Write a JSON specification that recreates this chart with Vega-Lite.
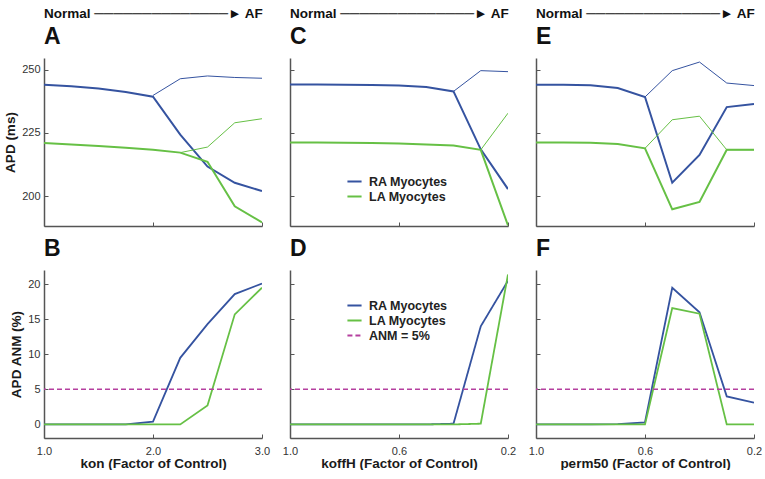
{
  "$schema": "https://vega.github.io/schema/vega-lite/v6.json",
  "background": "white",
  "padding": {"left": 3, "top": 6, "right": 0, "bottom": 0},
  "columns": 3,
  "bounds": "flush",
  "spacing": {"row": 44, "column": 28},
  "resolve": {
    "scale": {"color": "independent", "strokeDash": "independent"},
    "legend": {"color": "independent", "strokeDash": "independent"}
  },
  "datasets": {
    "apdA": [
      {"x": 1.0, "y": 244.0, "series": "RA Myocytes", "branch": "main"},
      {"x": 1.25, "y": 243.4, "series": "RA Myocytes", "branch": "main"},
      {"x": 1.5, "y": 242.5, "series": "RA Myocytes", "branch": "main"},
      {"x": 1.75, "y": 241.2, "series": "RA Myocytes", "branch": "main"},
      {"x": 2.0, "y": 239.3, "series": "RA Myocytes", "branch": "main"},
      {"x": 2.25, "y": 224.3, "series": "RA Myocytes", "branch": "main"},
      {"x": 2.5, "y": 211.7, "series": "RA Myocytes", "branch": "main"},
      {"x": 2.75, "y": 205.3, "series": "RA Myocytes", "branch": "main"},
      {"x": 3.0, "y": 202.0, "series": "RA Myocytes", "branch": "main"},
      {"x": 2.0, "y": 239.8, "series": "RA Myocytes", "branch": "alt"},
      {"x": 2.25, "y": 246.4, "series": "RA Myocytes", "branch": "alt"},
      {"x": 2.5, "y": 247.5, "series": "RA Myocytes", "branch": "alt"},
      {"x": 2.75, "y": 246.9, "series": "RA Myocytes", "branch": "alt"},
      {"x": 3.0, "y": 246.6, "series": "RA Myocytes", "branch": "alt"},
      {"x": 1.0, "y": 221.0, "series": "LA Myocytes", "branch": "main"},
      {"x": 1.25, "y": 220.4, "series": "LA Myocytes", "branch": "main"},
      {"x": 1.5, "y": 219.8, "series": "LA Myocytes", "branch": "main"},
      {"x": 1.75, "y": 219.1, "series": "LA Myocytes", "branch": "main"},
      {"x": 2.0, "y": 218.3, "series": "LA Myocytes", "branch": "main"},
      {"x": 2.25, "y": 217.2, "series": "LA Myocytes", "branch": "main"},
      {"x": 2.5, "y": 213.6, "series": "LA Myocytes", "branch": "main"},
      {"x": 2.75, "y": 196.0, "series": "LA Myocytes", "branch": "main"},
      {"x": 3.0, "y": 189.6, "series": "LA Myocytes", "branch": "main"},
      {"x": 2.25, "y": 217.2, "series": "LA Myocytes", "branch": "alt"},
      {"x": 2.5, "y": 219.4, "series": "LA Myocytes", "branch": "alt"},
      {"x": 2.75, "y": 229.0, "series": "LA Myocytes", "branch": "alt"},
      {"x": 3.0, "y": 230.6, "series": "LA Myocytes", "branch": "alt"}
    ],
    "apdC": [
      {"x": 1.0, "y": 244.1, "series": "RA Myocytes", "branch": "main"},
      {"x": 0.9, "y": 244.1, "series": "RA Myocytes", "branch": "main"},
      {"x": 0.8, "y": 244.0, "series": "RA Myocytes", "branch": "main"},
      {"x": 0.7, "y": 243.9, "series": "RA Myocytes", "branch": "main"},
      {"x": 0.6, "y": 243.7, "series": "RA Myocytes", "branch": "main"},
      {"x": 0.5, "y": 243.1, "series": "RA Myocytes", "branch": "main"},
      {"x": 0.4, "y": 241.4, "series": "RA Myocytes", "branch": "main"},
      {"x": 0.3, "y": 218.5, "series": "RA Myocytes", "branch": "main"},
      {"x": 0.2, "y": 202.8, "series": "RA Myocytes", "branch": "main"},
      {"x": 0.4, "y": 241.4, "series": "RA Myocytes", "branch": "alt"},
      {"x": 0.3, "y": 249.6, "series": "RA Myocytes", "branch": "alt"},
      {"x": 0.2, "y": 249.2, "series": "RA Myocytes", "branch": "alt"},
      {"x": 1.0, "y": 221.2, "series": "LA Myocytes", "branch": "main"},
      {"x": 0.9, "y": 221.2, "series": "LA Myocytes", "branch": "main"},
      {"x": 0.8, "y": 221.1, "series": "LA Myocytes", "branch": "main"},
      {"x": 0.7, "y": 221.0, "series": "LA Myocytes", "branch": "main"},
      {"x": 0.6, "y": 220.8, "series": "LA Myocytes", "branch": "main"},
      {"x": 0.5, "y": 220.4, "series": "LA Myocytes", "branch": "main"},
      {"x": 0.4, "y": 220.0, "series": "LA Myocytes", "branch": "main"},
      {"x": 0.3, "y": 218.3, "series": "LA Myocytes", "branch": "main"},
      {"x": 0.2, "y": 188.4, "series": "LA Myocytes", "branch": "main"},
      {"x": 0.3, "y": 218.3, "series": "LA Myocytes", "branch": "alt"},
      {"x": 0.2, "y": 232.8, "series": "LA Myocytes", "branch": "alt"}
    ],
    "apdE": [
      {"x": 1.0, "y": 244.0, "series": "RA Myocytes", "branch": "main"},
      {"x": 0.9, "y": 244.0, "series": "RA Myocytes", "branch": "main"},
      {"x": 0.8, "y": 243.8, "series": "RA Myocytes", "branch": "main"},
      {"x": 0.7, "y": 242.7, "series": "RA Myocytes", "branch": "main"},
      {"x": 0.6, "y": 239.2, "series": "RA Myocytes", "branch": "main"},
      {"x": 0.5, "y": 205.3, "series": "RA Myocytes", "branch": "main"},
      {"x": 0.4, "y": 216.3, "series": "RA Myocytes", "branch": "main"},
      {"x": 0.3, "y": 235.2, "series": "RA Myocytes", "branch": "main"},
      {"x": 0.2, "y": 236.4, "series": "RA Myocytes", "branch": "main"},
      {"x": 0.6, "y": 239.2, "series": "RA Myocytes", "branch": "alt"},
      {"x": 0.5, "y": 249.6, "series": "RA Myocytes", "branch": "alt"},
      {"x": 0.4, "y": 253.0, "series": "RA Myocytes", "branch": "alt"},
      {"x": 0.3, "y": 244.7, "series": "RA Myocytes", "branch": "alt"},
      {"x": 0.2, "y": 243.7, "series": "RA Myocytes", "branch": "alt"},
      {"x": 1.0, "y": 221.2, "series": "LA Myocytes", "branch": "main"},
      {"x": 0.9, "y": 221.2, "series": "LA Myocytes", "branch": "main"},
      {"x": 0.8, "y": 221.1, "series": "LA Myocytes", "branch": "main"},
      {"x": 0.7, "y": 220.6, "series": "LA Myocytes", "branch": "main"},
      {"x": 0.6, "y": 218.9, "series": "LA Myocytes", "branch": "main"},
      {"x": 0.5, "y": 194.8, "series": "LA Myocytes", "branch": "main"},
      {"x": 0.4, "y": 197.7, "series": "LA Myocytes", "branch": "main"},
      {"x": 0.3, "y": 218.3, "series": "LA Myocytes", "branch": "main"},
      {"x": 0.2, "y": 218.3, "series": "LA Myocytes", "branch": "main"},
      {"x": 0.6, "y": 218.9, "series": "LA Myocytes", "branch": "alt"},
      {"x": 0.5, "y": 230.2, "series": "LA Myocytes", "branch": "alt"},
      {"x": 0.4, "y": 231.6, "series": "LA Myocytes", "branch": "alt"},
      {"x": 0.3, "y": 218.3, "series": "LA Myocytes", "branch": "alt"},
      {"x": 0.2, "y": 218.3, "series": "LA Myocytes", "branch": "alt"}
    ],
    "anmB": [
      {"x": 1.0, "y": 0, "series": "RA Myocytes"},
      {"x": 1.25, "y": 0, "series": "RA Myocytes"},
      {"x": 1.5, "y": 0, "series": "RA Myocytes"},
      {"x": 1.75, "y": 0, "series": "RA Myocytes"},
      {"x": 2.0, "y": 0.4, "series": "RA Myocytes"},
      {"x": 2.25, "y": 9.5, "series": "RA Myocytes"},
      {"x": 2.5, "y": 14.3, "series": "RA Myocytes"},
      {"x": 2.75, "y": 18.6, "series": "RA Myocytes"},
      {"x": 3.0, "y": 20.1, "series": "RA Myocytes"},
      {"x": 1.0, "y": 0, "series": "LA Myocytes"},
      {"x": 1.25, "y": 0, "series": "LA Myocytes"},
      {"x": 1.5, "y": 0, "series": "LA Myocytes"},
      {"x": 1.75, "y": 0, "series": "LA Myocytes"},
      {"x": 2.0, "y": 0, "series": "LA Myocytes"},
      {"x": 2.25, "y": 0, "series": "LA Myocytes"},
      {"x": 2.5, "y": 2.7, "series": "LA Myocytes"},
      {"x": 2.75, "y": 15.7, "series": "LA Myocytes"},
      {"x": 3.0, "y": 19.5, "series": "LA Myocytes"}
    ],
    "anmD": [
      {"x": 1.0, "y": 0, "series": "RA Myocytes"},
      {"x": 0.9, "y": 0, "series": "RA Myocytes"},
      {"x": 0.8, "y": 0, "series": "RA Myocytes"},
      {"x": 0.7, "y": 0, "series": "RA Myocytes"},
      {"x": 0.6, "y": 0, "series": "RA Myocytes"},
      {"x": 0.5, "y": 0, "series": "RA Myocytes"},
      {"x": 0.4, "y": 0.1, "series": "RA Myocytes"},
      {"x": 0.3, "y": 14.0, "series": "RA Myocytes"},
      {"x": 0.2, "y": 20.5, "series": "RA Myocytes"},
      {"x": 1.0, "y": 0, "series": "LA Myocytes"},
      {"x": 0.9, "y": 0, "series": "LA Myocytes"},
      {"x": 0.8, "y": 0, "series": "LA Myocytes"},
      {"x": 0.7, "y": 0, "series": "LA Myocytes"},
      {"x": 0.6, "y": 0, "series": "LA Myocytes"},
      {"x": 0.5, "y": 0, "series": "LA Myocytes"},
      {"x": 0.4, "y": 0, "series": "LA Myocytes"},
      {"x": 0.3, "y": 0.1, "series": "LA Myocytes"},
      {"x": 0.2, "y": 21.4, "series": "LA Myocytes"}
    ],
    "anmF": [
      {"x": 1.0, "y": 0, "series": "RA Myocytes"},
      {"x": 0.9, "y": 0, "series": "RA Myocytes"},
      {"x": 0.8, "y": 0, "series": "RA Myocytes"},
      {"x": 0.7, "y": 0.05, "series": "RA Myocytes"},
      {"x": 0.6, "y": 0.3, "series": "RA Myocytes"},
      {"x": 0.5, "y": 19.5, "series": "RA Myocytes"},
      {"x": 0.4, "y": 16.0, "series": "RA Myocytes"},
      {"x": 0.3, "y": 4.0, "series": "RA Myocytes"},
      {"x": 0.2, "y": 3.1, "series": "RA Myocytes"},
      {"x": 1.0, "y": 0, "series": "LA Myocytes"},
      {"x": 0.9, "y": 0, "series": "LA Myocytes"},
      {"x": 0.8, "y": 0, "series": "LA Myocytes"},
      {"x": 0.7, "y": 0, "series": "LA Myocytes"},
      {"x": 0.6, "y": 0, "series": "LA Myocytes"},
      {"x": 0.5, "y": 16.6, "series": "LA Myocytes"},
      {"x": 0.4, "y": 15.8, "series": "LA Myocytes"},
      {"x": 0.3, "y": 0, "series": "LA Myocytes"},
      {"x": 0.2, "y": 0, "series": "LA Myocytes"}
    ],
    "anm": [{"y": 5, "series": "ANM = 5%"}]
  },
  "concat": [
    {
      "width": 218, "height": 168,
      "title": {"text": "Normal ──────────────► AF", "subtitle": "A"},
      "data": {"name": "apdA"},
      "mark": {"type": "line", "clip": true},
      "encoding": {
        "x": {"field": "x", "type": "quantitative", "scale": {"domain": [1, 3], "nice": false}, "axis": {"values": [1, 2, 3], "labels": false, "title": null}},
        "y": {"field": "y", "type": "quantitative", "scale": {"domain": [188.2, 254.6], "nice": false, "zero": false}, "axis": {"values": [200, 225, 250], "title": "APD (ms)"}},
        "color": {"field": "series", "type": "nominal", "scale": {"domain": ["RA Myocytes", "LA Myocytes"], "range": ["#3553a0", "#66c045"]}, "legend": null},
        "strokeWidth": {"field": "branch", "type": "nominal", "scale": {"domain": ["main", "alt"], "range": [2, 1]}, "legend": null},
        "detail": {"field": "branch"}
      }
    },
    {
      "width": 218, "height": 168,
      "title": {"text": "Normal ──────────────► AF", "subtitle": "C"},
      "data": {"name": "apdC"},
      "mark": {"type": "line", "clip": true},
      "encoding": {
        "x": {"field": "x", "type": "quantitative", "scale": {"domain": [0.2, 1.0], "reverse": true, "nice": false}, "axis": {"values": [1.0, 0.6, 0.2], "labels": false, "title": null}},
        "y": {"field": "y", "type": "quantitative", "scale": {"domain": [188.2, 254.6], "nice": false, "zero": false}, "axis": {"values": [200, 225, 250], "labels": false, "title": null}},
        "color": {"field": "series", "type": "nominal", "scale": {"domain": ["RA Myocytes", "LA Myocytes"], "range": ["#3553a0", "#66c045"]}, "legend": {"title": null, "orient": "none", "legendX": 56, "legendY": 115}},
        "strokeWidth": {"field": "branch", "type": "nominal", "scale": {"domain": ["main", "alt"], "range": [2, 1]}, "legend": null},
        "detail": {"field": "branch"}
      }
    },
    {
      "width": 218, "height": 168,
      "title": {"text": "Normal ──────────────► AF", "subtitle": "E"},
      "data": {"name": "apdE"},
      "mark": {"type": "line", "clip": true},
      "encoding": {
        "x": {"field": "x", "type": "quantitative", "scale": {"domain": [0.2, 1.0], "reverse": true, "nice": false}, "axis": {"values": [1.0, 0.6, 0.2], "labels": false, "title": null}},
        "y": {"field": "y", "type": "quantitative", "scale": {"domain": [188.2, 254.6], "nice": false, "zero": false}, "axis": {"values": [200, 225, 250], "labels": false, "title": null}},
        "color": {"field": "series", "type": "nominal", "scale": {"domain": ["RA Myocytes", "LA Myocytes"], "range": ["#3553a0", "#66c045"]}, "legend": null},
        "strokeWidth": {"field": "branch", "type": "nominal", "scale": {"domain": ["main", "alt"], "range": [2, 1]}, "legend": null},
        "detail": {"field": "branch"}
      }
    },
    {
      "width": 218, "height": 168,
      "title": {"text": "B", "fontSize": 23},
      "encoding": {
        "y": {"field": "y", "type": "quantitative", "scale": {"domain": [-1.94, 22.03], "nice": false, "zero": false}, "axis": {"values": [0, 5, 10, 15, 20], "title": "APD ANM (%)"}}
      },
      "layer": [
        {
          "data": {"name": "anmB"},
          "mark": {"type": "line", "strokeWidth": 1.8, "clip": true},
          "encoding": {
            "x": {"field": "x", "type": "quantitative", "scale": {"domain": [1, 3], "nice": false}, "axis": {"values": [1, 2, 3], "format": ".1f", "title": "kon (Factor of Control)"}},
            "color": {"field": "series", "type": "nominal", "scale": {"domain": ["RA Myocytes", "LA Myocytes"], "range": ["#3553a0", "#66c045"]}, "legend": null}
          }
        },
        {
          "data": {"name": "anm"},
          "mark": {"type": "rule", "color": "#b5409f", "strokeDash": [5, 3], "strokeWidth": 1.5},
          "encoding": {}
        }
      ]
    },
    {
      "width": 218, "height": 168,
      "title": {"text": "D", "fontSize": 23},
      "encoding": {
        "y": {"field": "y", "type": "quantitative", "scale": {"domain": [-1.94, 22.03], "nice": false, "zero": false}, "axis": {"values": [0, 5, 10, 15, 20], "labels": false, "title": null}},
        "color": {"field": "series", "type": "nominal", "scale": {"domain": ["RA Myocytes", "LA Myocytes", "ANM = 5%"], "range": ["#3553a0", "#66c045", "#b5409f"]}, "legend": {"title": null, "orient": "none", "legendX": 56, "legendY": 27}},
        "strokeDash": {"field": "series", "type": "nominal", "scale": {"domain": ["RA Myocytes", "LA Myocytes", "ANM = 5%"], "range": [[1, 0], [1, 0], [5, 3]]}, "legend": {"title": null, "orient": "none", "legendX": 56, "legendY": 27}}
      },
      "layer": [
        {
          "data": {"name": "anmD"},
          "mark": {"type": "line", "strokeWidth": 1.8, "clip": true},
          "encoding": {
            "x": {"field": "x", "type": "quantitative", "scale": {"domain": [0.2, 1.0], "reverse": true, "nice": false}, "axis": {"values": [1.0, 0.6, 0.2], "format": ".1f", "title": "koffH (Factor of Control)"}}
          }
        },
        {
          "data": {"name": "anm"},
          "mark": {"type": "rule", "strokeWidth": 1.5},
          "encoding": {}
        }
      ]
    },
    {
      "width": 218, "height": 168,
      "title": {"text": "F", "fontSize": 23},
      "encoding": {
        "y": {"field": "y", "type": "quantitative", "scale": {"domain": [-1.94, 22.03], "nice": false, "zero": false}, "axis": {"values": [0, 5, 10, 15, 20], "labels": false, "title": null}}
      },
      "layer": [
        {
          "data": {"name": "anmF"},
          "mark": {"type": "line", "strokeWidth": 1.8, "clip": true},
          "encoding": {
            "x": {"field": "x", "type": "quantitative", "scale": {"domain": [0.2, 1.0], "reverse": true, "nice": false}, "axis": {"values": [1.0, 0.6, 0.2], "format": ".1f", "title": "perm50 (Factor of Control)"}},
            "color": {"field": "series", "type": "nominal", "scale": {"domain": ["RA Myocytes", "LA Myocytes"], "range": ["#3553a0", "#66c045"]}, "legend": null}
          }
        },
        {
          "data": {"name": "anm"},
          "mark": {"type": "rule", "color": "#b5409f", "strokeDash": [5, 3], "strokeWidth": 1.5},
          "encoding": {}
        }
      ]
    }
  ],
  "config": {
    "font": "Liberation Sans",
    "view": {"stroke": null},
    "axis": {
      "domainColor": "#555555", "domainWidth": 1.5,
      "tickColor": "#555555", "tickSize": -4, "tickWidth": 1,
      "labelFontSize": 11, "labelColor": "#333333", "labelPadding": 8, "labelFlush": false,
      "titleFontSize": 13.5, "titleFontWeight": "bold", "titleColor": "#1a1a1a",
      "grid": false
    },
    "axisX": {"labelPadding": 11, "titlePadding": 0},
    "title": {
      "anchor": "start", "frame": "group", "fontSize": 13.5, "fontWeight": "bold", "color": "#111111",
      "subtitleFontSize": 23, "subtitleFontWeight": "bold", "subtitleColor": "#111111",
      "subtitlePadding": 6, "offset": 9
    },
    "legend": {
      "labelFontSize": 12.5, "labelFontWeight": "bold", "labelColor": "#222222",
      "symbolType": "stroke", "symbolSize": 200, "symbolStrokeWidth": 2,
      "padding": 0, "rowPadding": 0, "labelOffset": 6
    }
  }
}
